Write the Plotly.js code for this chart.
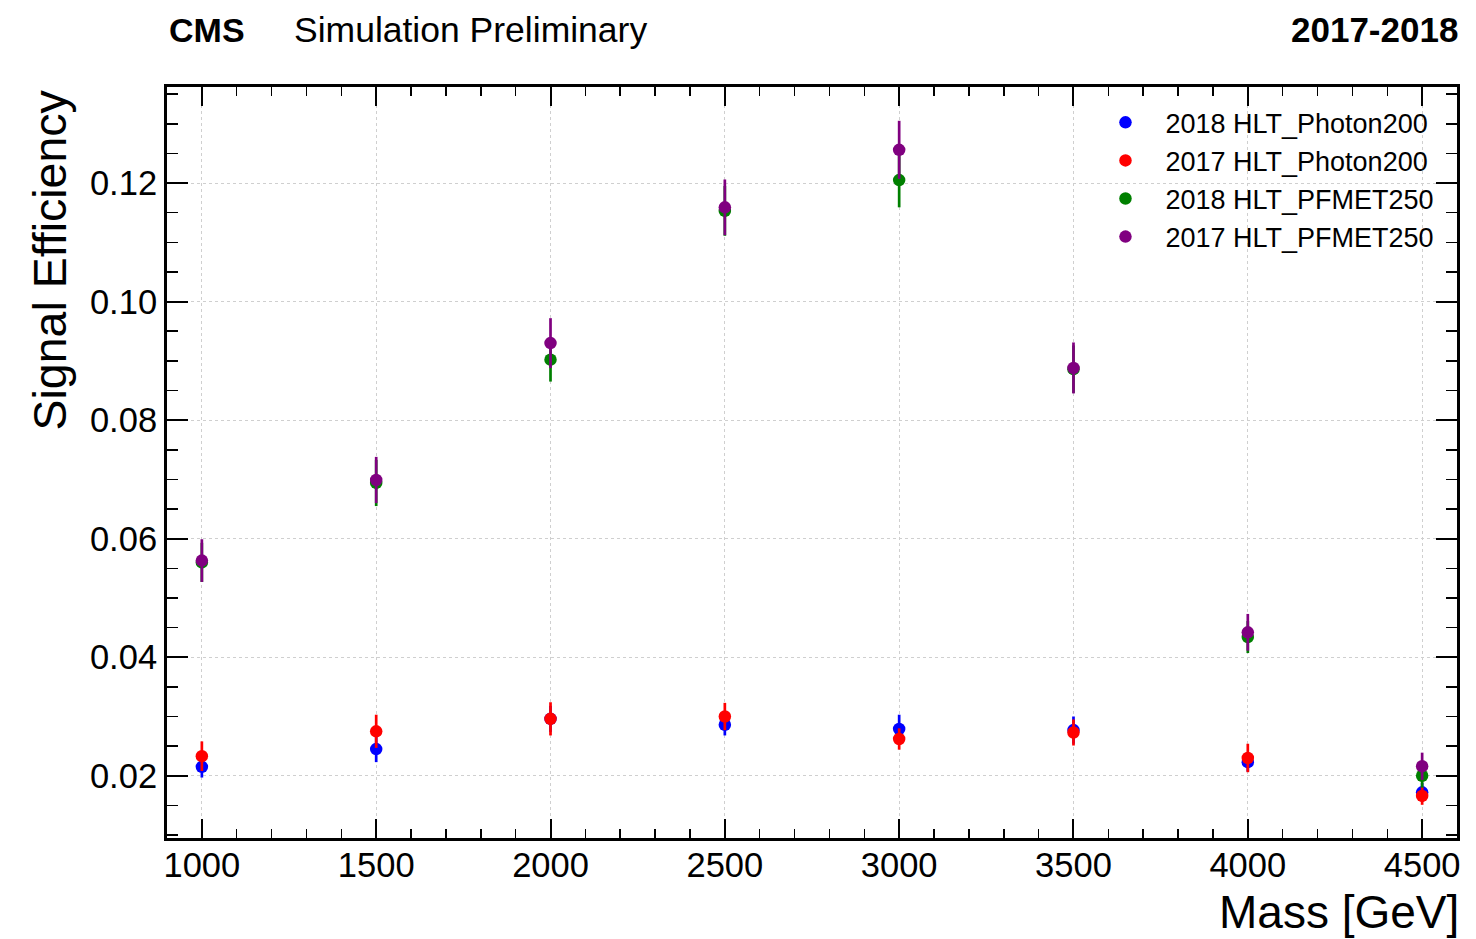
<!DOCTYPE html>
<html>
<head>
<meta charset="utf-8">
<script src="https://cdn.plot.ly/plotly-3.0.1.min.js"></script>
<style>html,body{margin:0;padding:0;background:#fff;}#chart{width:1476px;height:939px;}</style>
</head>
<body>
<div id="chart"></div>
<script>
const mass = [1000, 1500, 2000, 2500, 3000, 3500, 4000, 4500];
const seriesNames = ["2018 HLT_Photon200", "2017 HLT_Photon200", "2018 HLT_PFMET250", "2017 HLT_PFMET250"];
const seriesColors = ["#0000ff", "#ff0000", "#008000", "#800080"];
const eff2018Photon = [0.0215, 0.0245, 0.0296, 0.0286, 0.0279, 0.0277, 0.0223, 0.0172];
const err2018Photon = [0.0018, 0.0022, 0.0022, 0.0018, 0.0024, 0.0023, 0.0016, 0.0016];
const eff2017Photon = [0.0233, 0.0275, 0.0296, 0.0300, 0.0262, 0.0273, 0.0230, 0.0166];
const err2017Photon = [0.0025, 0.0028, 0.0028, 0.0023, 0.0018, 0.0022, 0.0024, 0.0015];
const eff2018MET = [0.0560, 0.0694, 0.0902, 0.1153, 0.1205, 0.0886, 0.0434, 0.0200];
const err2018MET = [0.0033, 0.0039, 0.0037, 0.0042, 0.0046, 0.0040, 0.0027, 0.0020];
const eff2017MET = [0.0563, 0.0699, 0.0930, 0.1159, 0.1256, 0.0888, 0.0442, 0.0216];
const err2017MET = [0.0036, 0.0039, 0.0042, 0.0047, 0.0049, 0.0043, 0.0031, 0.0023];
const xTickVals = [1000, 1500, 2000, 2500, 3000, 3500, 4000, 4500];
const yTickVals = [0.02, 0.04, 0.06, 0.08, 0.10, 0.12];
const yTickText = ["0.02", "0.04", "0.06", "0.08", "0.10", "0.12"];

const values = [eff2018Photon, eff2017Photon, eff2018MET, eff2017MET];
const errors = [err2018Photon, err2017Photon, err2018MET, err2017MET];

const FONT = "Liberation Sans, Arial, Helvetica, sans-serif";

const traces = values.map((v, i) => ({
  type: "scatter",
  mode: "markers",
  name: seriesNames[i],
  legendgroup: "g" + i,
  x: mass,
  y: v,
  marker: {color: seriesColors[i], size: 12.5},
  error_y: {type: "data", array: errors[i], visible: true, color: seriesColors[i], thickness: 2.7, width: 0}
}));

const layout = {
  width: 1476,
  height: 939,
  paper_bgcolor: "#fff",
  plot_bgcolor: "#fff",
  margin: {l: 167, r: 19, t: 87, b: 101},
  showlegend: true,
  legend: {
    x: 0.712, y: 0.985, xanchor: "left", yanchor: "top",
    bgcolor: "rgba(0,0,0,0)",
    font: {family: FONT, size: 27, color: "#000"},
    tracegroupgap: 0,
    itemwidth: 70
  },
  xaxis: {
    range: [900, 4600],
    tickvals: xTickVals,
    ticks: "inside", ticklen: 19, tickwidth: 2, tickcolor: "#000",
    minor: {dtick: 100, ticks: "inside", ticklen: 9, tickwidth: 1.5, tickcolor: "#000", showgrid: false},
    showline: true, linewidth: 3, linecolor: "#000", mirror: "ticks",
    showgrid: true, gridcolor: "#cfcfcf", griddash: "dot", gridwidth: 1,
    zeroline: false,
    ticklabelstandoff: -5,
    tickfont: {family: FONT, size: 34.5, color: "#000"}
  },
  yaxis: {
    range: [0.0095, 0.1362],
    tickvals: yTickVals, ticktext: yTickText,
    ticks: "inside", ticklen: 21, tickwidth: 2, tickcolor: "#000",
    minor: {dtick: 0.005, tick0: 0, ticks: "inside", ticklen: 11, tickwidth: 1.5, tickcolor: "#000", showgrid: false},
    showline: true, linewidth: 3, linecolor: "#000", mirror: "ticks",
    showgrid: true, gridcolor: "#cfcfcf", griddash: "dot", gridwidth: 1,
    zeroline: false,
    tickfont: {family: FONT, size: 34.5, color: "#000"}
  },
  annotations: [
    {text: "<b>CMS</b>", xref: "paper", yref: "paper", x: 0.0, y: 1.076, xanchor: "left", yanchor: "middle", showarrow: false, font: {family: FONT, size: 34, color: "#000"}},
    {text: "Simulation Preliminary", xref: "paper", yref: "paper", x: 0.097, y: 1.076, xanchor: "left", yanchor: "middle", showarrow: false, font: {family: FONT, size: 35.5, color: "#000"}},
    {text: "<b>2017-2018</b>", xref: "paper", yref: "paper", x: 1.002, y: 1.076, xanchor: "right", yanchor: "middle", showarrow: false, font: {family: FONT, size: 35, color: "#000"}},
    {text: "Mass [GeV]", xref: "paper", yref: "paper", x: 1.003, y: -0.0985, xanchor: "right", yanchor: "middle", showarrow: false, font: {family: FONT, size: 46, color: "#000"}},
    {text: "Signal Efficiency", xref: "paper", yref: "paper", x: -0.0907, y: 1.0, xanchor: "center", yanchor: "top", textangle: -90, showarrow: false, font: {family: FONT, size: 46.5, color: "#000"}}
  ]
};

Plotly.newPlot("chart", traces, layout, {displayModeBar: false, staticPlot: true});
</script>
</body>
</html>
